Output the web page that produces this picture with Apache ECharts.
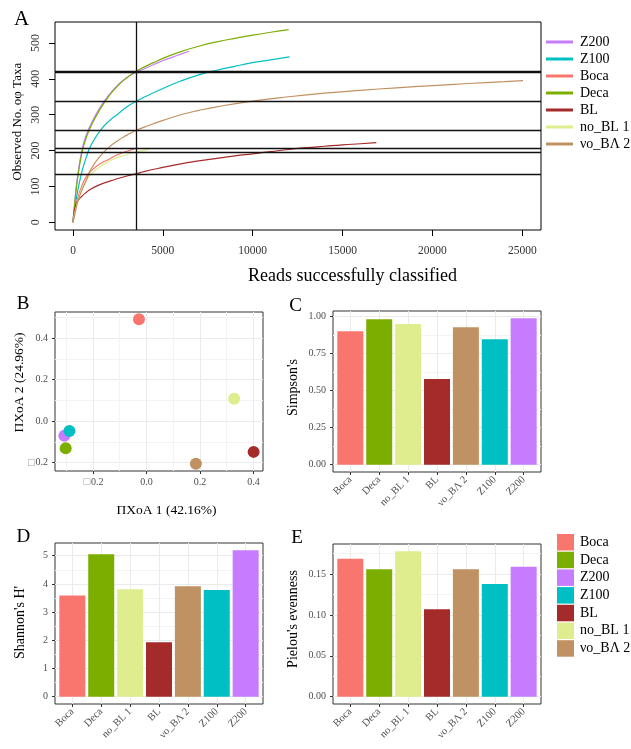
<!DOCTYPE html>
<html>
<head>
<meta charset="utf-8">
<script src="https://cdn.jsdelivr.net/npm/echarts@6/dist/echarts.min.js"></script>
<style>
  html, body { margin: 0; padding: 0; background: #ffffff; }
  #chart { width: 631px; height: 749px; }
</style>
</head>
<body>
<div id="chart"></div>
<script>
const SERIF = '"Liberation Serif", "DejaVu Serif", "Times New Roman", serif';

// ---- samples (category order of the bar panels) ----
const samples      = ['Boca', 'Deca', 'no_BL 1', 'BL', 'νο_ΒΛ 2', 'Z100', 'Z200'];
const sampleColors = ['#F8766D', '#7CAE00', '#DFED8F', '#A52A2A', '#C09162', '#00BFC4', '#C77CFF'];

// ---- alpha diversity ----
const simpson = [0.899, 0.980, 0.948, 0.578, 0.926, 0.845, 0.986];
const shannon = [3.59, 5.05, 3.81, 1.93, 3.92, 3.78, 5.19];
const pielou  = [0.169, 0.156, 0.178, 0.107, 0.156, 0.138, 0.159];

// ---- PCoA coordinates ----
const pcoa1 = [-0.028, -0.302, 0.328, 0.401, 0.185, -0.288, -0.307];
const pcoa2 = [0.490, -0.130, 0.108, -0.148, -0.205, -0.048, -0.070];

// ---- rarefaction curves: [reads, observed taxa] ----
const curveZ200 = [[0,0],[100,58],[250,126],[500,202],[750,245],[1000,274],[1500,320],[2000,355],[2500,383],[3000,404],[3500,418],[4000,429],[4500,440],[5000,451],[5500,460],[6000,469],[6450,477]];
const curveZ100 = [[0,0],[100,35],[250,85],[500,142],[750,183],[1000,215],[1500,255],[2000,282],[2500,302],[3000,322],[3500,337],[4000,350],[5000,373],[6000,394],[7000,411],[8000,424],[9000,435],[10000,445],[11000,453],[12050,461]];
const curveBoca = [[0,0],[100,32],[250,66],[500,103],[750,128],[1000,143],[1500,163],[2000,176],[2500,189],[3000,198],[3466,206]];
const curveDeca = [[0,0],[100,55],[250,120],[500,195],[750,238],[1000,268],[1500,315],[2000,352],[2500,381],[3000,403],[3500,421],[4000,434],[4500,446],[5000,457],[6000,476],[7000,491],[8000,503],[9000,513],[10000,522],[11000,530],[12000,537]];
const curveBL   = [[0,0],[100,38],[250,58],[500,73],[750,84],[1000,93],[1500,105],[2000,114],[2500,122],[3000,129],[3500,135],[4000,142],[5000,153],[6000,163],[7000,171],[8000,178],[9000,185],[10000,191],[11000,197],[12000,203],[13000,208],[14000,212],[15000,216],[16000,219],[16880,222]];
const curveNoBL1 = [[0,0],[100,27],[250,56],[500,95],[750,119],[1000,134],[1500,155],[2000,170],[2500,181],[3000,189],[3500,196],[4000,201],[4206,204]];
const curveNoBL2 = [[0,0],[100,22],[250,55],[500,90],[750,118],[1000,148],[1500,184],[2000,209],[2500,228],[3000,243],[3500,256],[4000,266],[5000,284],[6000,300],[7000,312],[8000,322],[10000,338],[12000,350],[14000,360],[16000,368],[18000,375],[20000,381],[22000,387],[24000,392],[25040,395]];

const curveNames  = ['Z200', 'Z100', 'Boca', 'Deca', 'BL', 'no_BL 1', 'νο_ΒΛ 2'];
const curveColors = ['#C77CFF', '#00BFC4', '#F8766D', '#7CAE00', '#A52A2A', '#DFED8F', '#C09162'];
const curveData   = [curveZ200, curveZ100, curveBoca, curveDeca, curveBL, curveNoBL1, curveNoBL2];

// rarefaction depth and taxa observed at that depth
const rarefyDepth = 3500;
const taxaAtDepth = [421, 418, 337, 256, 206, 196, 135];

// legend order of the bar panels / point draw order
const barLegendOrder = ['Boca', 'Deca', 'Z200', 'Z100', 'BL', 'no_BL 1', 'νο_ΒΛ 2'];
const pointOrder = [0, 1, 6, 5, 3, 2, 4];

// ---- tick labels ----
const ticksAx = [0, 5000, 10000, 15000, 20000, 25000];
const ticksAy = [0, 100, 200, 300, 400, 500];
const ticksB   = [-0.2, 0.0, 0.2, 0.4];
const minorBx  = [-0.3, -0.1, 0.1, 0.3];
const minorBy  = [-0.1, 0.1, 0.3, 0.5];
const ticksC   = [0, 0.25, 0.5, 0.75, 1.0];
const minorC   = [0.125, 0.375, 0.625, 0.875];
const ticksD   = [0, 1, 2, 3, 4, 5];
const minorD   = [0.5, 1.5, 2.5, 3.5, 4.5];
const ticksE   = [0, 0.05, 0.10, 0.15];
const minorE   = [0.025, 0.075, 0.125, 0.175];
const catPositions = samples.map((_, i) => i + 1);

const GREY_TXT = '#4D4D4D';
const GRID_MAJOR = '#EBEBEB';
const GRID_MINOR = '#F3F3F3';

function negBox(v, digits) {
  const s = Math.abs(v).toFixed(digits);
  return v < -1e-9 ? '{m|□}' + s : s;
}

function themedAxis(gridIndex, min, max, ticks, fmt, margin) {
  return {
    type: 'value', gridIndex, min, max,
    axisLine: { show: false, onZero: false },
    axisTick: { show: true, length: 3, lineStyle: { color: '#333333', width: 1 }, customValues: ticks },
    axisLabel: {
      customValues: ticks, formatter: fmt, color: GREY_TXT, fontFamily: SERIF, fontSize: 10, margin,
      rich: { m: { color: '#AAAAAA', fontSize: 9, fontFamily: 'DejaVu Sans' } }
    },
    splitLine: { show: true, lineStyle: { color: GRID_MAJOR, width: 1 } }
  };
}

function minorAxis(gridIndex, min, max, ticks, position) {
  return {
    type: 'value', gridIndex, min, max, position,
    axisLine: { show: false, onZero: false },
    axisTick: { show: false, customValues: ticks },
    axisLabel: { show: false, customValues: ticks },
    splitLine: { show: true, lineStyle: { color: GRID_MINOR, width: 1 } }
  };
}

function catAxis(gridIndex) {
  return {
    type: 'value', gridIndex, min: 0.4, max: 7.6,
    axisLine: { show: false, onZero: false },
    axisTick: { show: true, length: 3, lineStyle: { color: '#333333' }, customValues: catPositions },
    axisLabel: {
      customValues: catPositions, rotate: 45, margin: 6,
      formatter: v => samples[Math.round(v) - 1],
      color: GREY_TXT, fontFamily: SERIF, fontSize: 10.5
    },
    splitLine: { show: true, lineStyle: { color: GRID_MAJOR, width: 1 } }
  };
}

const panelGrid = (left, top, width, height, border) => ({
  left, top, width, height, show: true, borderColor: border, borderWidth: 1,
  backgroundColor: 'transparent', containLabel: false, outerBoundsMode: 'none'
});

const grids = [
  panelGrid(55, 22, 486, 208, '#000000'),   // A
  panelGrid(55, 312, 208, 159, '#333333'),  // B
  panelGrid(333, 311, 208, 161, '#333333'), // C
  panelGrid(55, 543, 208, 161, '#333333'),  // D
  panelGrid(333, 544, 208, 160, '#333333')  // E
];

const xAxes = [
  {
    type: 'value', gridIndex: 0, min: -1002, max: 26042,
    axisLine: { show: false, onZero: false },
    axisTick: { show: true, length: 6, lineStyle: { color: '#000' }, customValues: ticksAx },
    axisLabel: { customValues: ticksAx, formatter: v => String(v), color: '#333', fontFamily: SERIF, fontSize: 11.5, margin: 15 },
    splitLine: { show: false }
  },
  themedAxis(1, -0.342, 0.436, ticksB, v => negBox(v, 1), 6),
  minorAxis(1, -0.342, 0.436, minorBx, 'top'),
  catAxis(2),
  catAxis(3),
  catAxis(4)
];

const yAxes = [
  {
    type: 'value', gridIndex: 0, min: -21.5, max: 558.5,
    axisLine: { show: false, onZero: false },
    axisTick: { show: true, length: 6, lineStyle: { color: '#000' }, customValues: ticksAy },
    axisLabel: { customValues: ticksAy, formatter: v => String(v), rotate: 90, color: '#333', fontFamily: SERIF, fontSize: 12, margin: 13 },
    splitLine: { show: false }
  },
  themedAxis(1, -0.240, 0.525, ticksB, v => negBox(v, 1), 7),
  minorAxis(1, -0.240, 0.525, minorBy, 'right'),
  themedAxis(2, -0.0493, 1.0353, ticksC, v => v.toFixed(2), 7),
  minorAxis(2, -0.0493, 1.0353, minorC, 'right'),
  themedAxis(3, -0.2595, 5.4495, ticksD, v => String(Math.round(v)), 7),
  minorAxis(3, -0.2595, 5.4495, minorD, 'right'),
  themedAxis(4, -0.0089, 0.1869, ticksE, v => v.toFixed(2), 7),
  minorAxis(4, -0.0089, 0.1869, minorE, 'right')
];

const series = [];

// A: rarefaction curves
curveNames.forEach((name, i) => {
  const s = {
    type: 'line', name, xAxisIndex: 0, yAxisIndex: 0,
    data: curveData[i], showSymbol: false, symbol: 'none',
    smooth: 0.5,
    lineStyle: { color: curveColors[i], width: 1.2 },
    itemStyle: { color: curveColors[i] },
    z: 3
  };
  if (i === 0) {
    s.markLine = {
      silent: true, symbol: ['none', 'none'], label: { show: false },
      lineStyle: { color: '#111111', width: 1.3, type: 'solid' },
      z: 4,
      data: [{ xAxis: rarefyDepth }].concat(taxaAtDepth.map(v => ({ yAxis: v })))
    };
  }
  series.push(s);
});

// B: PCoA ordination
series.push({
  type: 'scatter', name: 'PCoA', xAxisIndex: 1, yAxisIndex: 1,
  symbolSize: 12,
  data: pointOrder.map(i => ({ value: [pcoa1[i], pcoa2[i]], itemStyle: { color: sampleColors[i], opacity: 1 } })),
  z: 3
});

// C, D, E: diversity indices
function barSeries(name, values, xIdx, yIdx) {
  return {
    type: 'bar', name, xAxisIndex: xIdx, yAxisIndex: yIdx, barWidth: '90%',
    data: values.map((v, i) => ({ value: [i + 1, v], itemStyle: { color: sampleColors[i] } })),
    z: 3
  };
}
series.push(barSeries("Simpson's", simpson, 3, 3));
series.push(barSeries("Shannon's H'", shannon, 4, 5));
series.push(barSeries("Pielou's evenness", pielou, 5, 7));

const legends = [
  {
    data: curveNames, orient: 'vertical', left: 546, top: 35, padding: 0,
    icon: 'rect', itemWidth: 27, itemHeight: 3, itemGap: 3, selectedMode: false,
    itemStyle: { borderWidth: 0 },
    textStyle: { fontFamily: SERIF, fontSize: 14, color: '#000', padding: [0, 0, 0, 2] }
  },
  {
    data: barLegendOrder, orient: 'vertical', left: 557, top: 534, padding: 0,
    icon: 'rect', itemWidth: 17, itemHeight: 16.5, itemGap: 1.2, selectedMode: false,
    itemStyle: { borderWidth: 0 },
    textStyle: { fontFamily: SERIF, fontSize: 14, color: '#000', padding: [0, 0, 0, 1] }
  }
];

function label(text, x, y, size, rot) {
  return {
    type: 'text', x, y, rotation: rot ? Math.PI / 2 : 0, silent: true,
    style: { text, fontFamily: SERIF, fontSize: size, fill: '#000', align: 'center', verticalAlign: 'middle' }
  };
}

const graphics = [
  label('A', 21.5, 19, 21),
  label('B', 23, 304.5, 19),
  label('C', 295.5, 306.5, 19),
  label('D', 23.3, 537.5, 19),
  label('E', 297, 538.3, 19),
  label('Reads successfully classified', 352.5, 276.5, 18),
  label('Observed No. οφ Taxa', 18, 121.7, 13, true),
  label('ΠΧοΑ 1 (42.16%)', 166.5, 510, 13.5),
  label('ΠΧοΑ 2 (24.96%)', 19, 382.5, 13.5, true),
  label("Simpson's", 293.3, 387.5, 14, true),
  label("Shannon's H'", 20.5, 622.5, 14, true),
  label("Pielou's evenness", 293.8, 619, 14, true)
];

const chart = echarts.init(document.getElementById('chart'), null, { renderer: 'canvas' });
chart.setOption({
  animation: false,
  backgroundColor: '#ffffff',
  textStyle: { fontFamily: SERIF },
  grid: grids,
  xAxis: xAxes,
  yAxis: yAxes,
  legend: legends,
  series,
  graphic: graphics
});
</script>
</body>
</html>
